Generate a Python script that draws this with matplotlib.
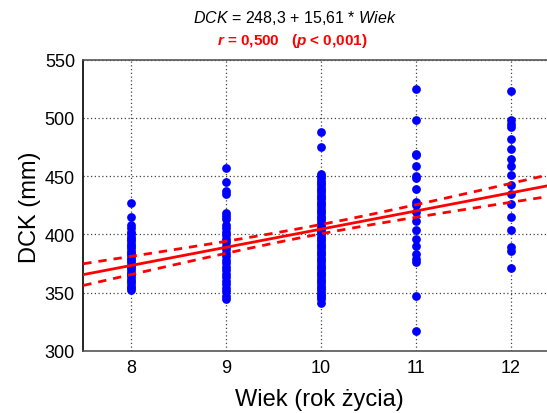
import numpy as np
import matplotlib
matplotlib.use("Agg")
import matplotlib.pyplot as plt

plt.rcParams['font.family'] = ['Liberation Sans', 'DejaVu Sans']
plt.rcParams['mathtext.fontset'] = 'custom'
plt.rcParams['mathtext.rm'] = 'Liberation Sans'
plt.rcParams['mathtext.it'] = 'Liberation Sans:italic'
plt.rcParams['mathtext.bf'] = 'Liberation Sans:bold'
plt.rcParams['mathtext.bfit'] = 'Liberation Sans:italic:bold'

# === dane ===
wiek_8 = [427, 415, 408, 405, 402, 400, 398, 396, 394, 392, 390, 388, 386, 384,
          382, 380, 378, 376, 374, 372, 370, 368, 366, 364, 362, 360, 358, 356,
          354, 352]
wiek_9 = [457, 445, 437, 435, 418, 416, 413, 408, 405, 402, 399, 396, 393, 390,
          387, 384, 381, 378, 375, 372, 369, 366, 363, 360, 357, 354, 351, 347, 344]
wiek_10 = [488, 475, 452, 450, 448, 446, 444, 442, 440, 438, 436, 434, 432, 430,
           428, 426, 424, 422, 420, 418, 416, 414, 412, 410, 408, 406, 404, 402,
           400, 398, 396, 394, 392, 390, 388, 386, 384, 382, 380, 378, 376, 374,
           372, 370, 368, 366, 364, 362, 360, 358, 356, 354, 352, 350, 348, 346,
           344, 341]
wiek_11 = [525, 498, 469, 468, 459, 450, 448, 439, 428, 425, 419, 411, 404, 396,
           390, 383, 379, 376, 347, 317]
wiek_12 = [523, 498, 495, 492, 482, 473, 465, 459, 451, 442, 435, 426, 415, 404,
           389, 386, 371]

groups = {8: wiek_8, 9: wiek_9, 10: wiek_10, 11: wiek_11, 12: wiek_12}

# regresja: DCK = 248,3 + 15,61 * Wiek
a, b = 248.3, 15.61
# parametry pasma ufności (szacowane)
n_obs = 220
resid_sd = 30.0
x_mean = 9.95
sxx = 295.0
t_val = 1.97

fig = plt.figure(figsize=(5.47, 4.14), dpi=100)
ax = fig.add_axes([83.3 / 547, 1 - 351.7 / 414, 475 / 547, 291 / 414])

for wiek, vals in groups.items():
    ax.plot([wiek] * len(vals), vals, 'o', color='#0000ff', markersize=6.3,
            markeredgewidth=0, zorder=3)

xx = np.linspace(7.5, 12.5, 200)
yy = a + b * xx
half = t_val * resid_sd * np.sqrt(1 / n_obs + (xx - x_mean) ** 2 / sxx)
ax.plot(xx, yy, color='red', linewidth=2, zorder=4)
ax.plot(xx, yy + half, color='red', linewidth=2, linestyle=(0, (3, 2.5)), zorder=4)
ax.plot(xx, yy - half, color='red', linewidth=2, linestyle=(0, (3, 2.5)), zorder=4)

ax.set_xlim(7.5, 12.5)
ax.set_ylim(300, 550)
ax.set_xticks([8, 9, 10, 11, 12])
ax.set_yticks([300, 350, 400, 450, 500, 550])
ax.tick_params(length=0, labelsize=13, pad=6, colors='black')
ax.grid(True, linestyle=(0, (1, 2)), color='#444444', linewidth=0.9)
ax.spines['right'].set_visible(False)
ax.spines['top'].set_color('#555555')
ax.spines['bottom'].set_color('#555555')
ax.spines['left'].set_color('black')
for s in ax.spines.values():
    s.set_linewidth(1.2)

fig.text(30 / 547, 1 - 207 / 414, 'DCK (mm)', rotation=90, fontsize=17,
         ha='center', va='center')
fig.text(319 / 547, 1 - 400 / 414, 'Wiek (rok życia)', fontsize=17,
         ha='center', va='center')

fig.text(295 / 547, 1 - 18 / 414, r'$\mathit{DCK}$ = 248,3 + 15,61 * $\mathit{Wiek}$',
         fontsize=11.5, ha='center', va='center')
fig.text(292 / 547, 1 - 41 / 414, r'$\mathbfit{r}$ = 0,500   ($\mathbfit{p}$ < 0,001)',
         fontsize=11, fontweight='bold', color='red', ha='center', va='center')

fig.savefig('out.png', dpi=100)
